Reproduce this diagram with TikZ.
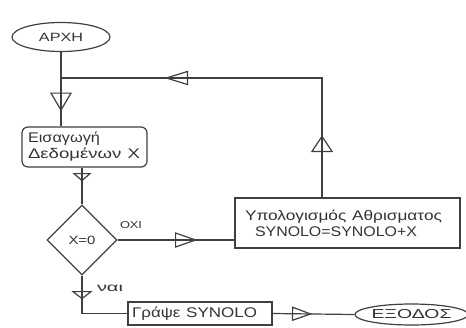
\documentclass[tikz,border=0pt]{standalone}
\usepackage{graphicx}
\usepackage{fontspec}
\setmainfont{Liberation Sans}
\newcommand\fitw[2]{\resizebox{#1}{\height}{#2}}
\usetikzlibrary{shapes.geometric,decorations.markings}
\tikzset{
  ln/.style={line width=1.2pt, draw=black!75},
  tri/.style args={#1/#2/#3}{postaction={decorate,decoration={markings,
      mark=at position #1 with {\draw[line width=1.2pt, draw=black!75, line join=miter] (0pt,0pt) -- (-#2,#3) -- (-#2,-#3) -- cycle;}}}},
  term/.style={ellipse, ln, inner sep=0pt, text=black!80},
  proc/.style={rectangle, ln, inner ysep=0pt, text=black!80, font=\fontsize{14}{16}\selectfont, align=left},
  lbl/.style={inner sep=0pt, text=black!80}
}
\begin{document}
\begin{tikzpicture}[x=1pt,y=-1pt]
\useasboundingbox[fill=white] (0,0) rectangle (466,327);
\node[term, minimum width=98pt, minimum height=29pt, font=\fontsize{12}{14}\selectfont] (start) at (61,37) {\fitw{44pt}{ΑΡΧΗ}};
\node[proc, rounded corners=6pt, minimum height=40pt, inner xsep=6pt, text width=113pt] (in) at (84.5,147) {\fitw{72pt}{Εισαγωγή}\\\fitw{112pt}{Δεδομένων X}};
\node[diamond, ln, inner sep=0pt, minimum width=70pt, minimum height=70pt, text=black!80, font=\fontsize{12}{14}\selectfont] (dec) at (82,240) {\fitw{27pt}{X=0}};
\node[proc, minimum height=50pt, inner xsep=10pt, text width=205pt] (calc) at (347.5,223) {\fitw{197pt}{Υπολογισμός Αθρισματος}\\\hspace*{10pt}\fitw{162pt}{SYNOLO=SYNOLO+X}};
\node[proc, minimum height=23pt, inner xsep=4pt, text width=136pt] (write) at (200,313.5) {\fitw{125pt}{Γράψε SYNOLO}};
\node[term, minimum width=103pt, minimum height=21pt, font=\fontsize{13}{15}\selectfont] (end) at (411.5,314.5) {\fitw{80pt}{ΕΞΟΔΟΣ}};
\node[lbl, font=\fontsize{10}{12}\selectfont] (no) at (131,225) {\fitw{22pt}{ΟΧΙ}};
\node[lbl, font=\fontsize{12}{14}\selectfont] (yes) at (110,288) {\fitw{26pt}{ναι}};
\coordinate (corner) at (322,78);
\coordinate (join) at (61,78);
% connectors
\draw[ln, tri=58pt/17pt/10pt] (start.south) -- (start.south |- in.north);
\draw[ln, tri=61pt/15pt/10pt, tri=275pt/21pt/6.5pt] (calc.north -| corner) -- (corner) -- (join);
\draw[ln, tri=13pt/7pt/8pt] (dec.north |- in.south) -- (dec.north);
\draw[ln, tri=78pt/20pt/7pt] (dec.east) -- (calc.west |- dec.east);
\draw[ln, tri=23pt/7pt/9pt] (dec.south) |- (write.west);
\draw[ln, tri=38pt/18pt/6.5pt] (write.east) -- (end.west);
\end{tikzpicture}
\end{document}
